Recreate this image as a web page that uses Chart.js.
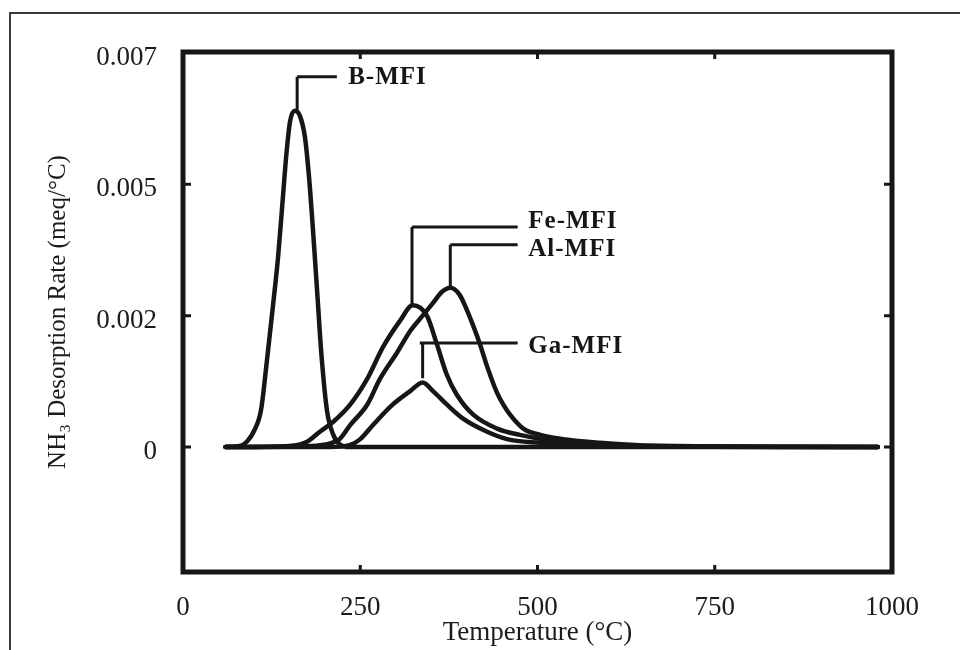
<!DOCTYPE html>
<html>
<head>
<meta charset="utf-8">
<script src="https://cdn.jsdelivr.net/npm/chart.js@4/dist/chart.umd.min.js"></script>
<style>
html,body{margin:0;padding:0;background:#fff;}
#wrap{width:960px;height:650px;position:relative;}
</style>
</head>
<body>
<div id="wrap"><canvas id="c" width="960" height="650"></canvas></div>
<script>
// ---- data ----
const xTickValues = [0, 250, 500, 750, 1000];
const yTickValues = [0, 0.0025, 0.005, 0.0075];
const yTickLabels = ['0', '0.002', '0.005', '0.007'];

const bMfiTemp = [60, 80, 90, 100, 110, 118, 127, 134, 140, 146, 151, 158, 165, 172, 178, 184, 190, 195, 203, 212, 221, 235, 980];
const bMfiRate = [0, 0.00002, 0.0001, 0.0003, 0.0007, 0.0016, 0.0027, 0.0036, 0.0046, 0.0056, 0.0062, 0.0064, 0.0063, 0.0059, 0.0051, 0.004, 0.0028, 0.0018, 0.0007, 0.00023, 0.00005, 0, 0];

const feMfiTemp = [60, 150, 175, 193, 212, 236, 260, 282, 306, 324, 344, 358, 372, 386, 409, 443, 475, 530, 600, 700, 980];
const feMfiRate = [0, 0.00002, 0.0001, 0.00029, 0.00048, 0.00081, 0.0013, 0.0019, 0.0024, 0.0027, 0.0025, 0.00196, 0.00138, 0.001, 0.00062, 0.00035, 0.00023, 0.0001, 0.00004, 0.00001, 0];

const alMfiTemp = [60, 180, 210, 221, 236, 260, 278, 302, 320, 338, 353, 365, 377, 390, 400, 409, 419, 429, 443, 452, 461, 480, 504, 536, 588, 650, 980];
const alMfiRate = [0, 0.00002, 0.00008, 0.00015, 0.00042, 0.00081, 0.0013, 0.0018, 0.0022, 0.0025, 0.00275, 0.00295, 0.00303, 0.0029, 0.00262, 0.00232, 0.00195, 0.00153, 0.00103, 0.0008, 0.00062, 0.00035, 0.00023, 0.00015, 0.00008, 0.00003, 0];

const gaMfiTemp = [60, 207, 236, 250, 268, 296, 320, 338, 353, 372, 395, 429, 457, 504, 560, 980];
const gaMfiRate = [0, 0, 0.00004, 0.00015, 0.00042, 0.00081, 0.00106, 0.00123, 0.00106, 0.00081, 0.00054, 0.00029, 0.00015, 0.00008, 0.00003, 0];

// label call-outs, in data units
const calloutText  = ['B-MFI', 'Fe-MFI', 'Al-MFI', 'Ga-MFI'];
const calloutStemX = [161, 323, 377, 338];
const calloutStemY = [0.0064, 0.0027, 0.00303, 0.00131];
const calloutElbow = [0.00705, 0.00419, 0.00385, 0.00198];
const calloutEndX  = [217, 472, 472, 472];
const calloutTextX = [233, 487, 487, 487];
const calloutTextY = [0.00705, 0.00432, 0.00377, 0.00194];
const calloutLineStartX = [161, 323, 377, 334];

function zip(t, r) { return t.map((x, i) => ({x: x, y: r[i]})); }

const INK = '#161616';
const TXT = '#1c1c1c';
const serif = "'Liberation Serif', 'Times New Roman', serif";

function makeSet(label, t, r) {
  return {
    label: label,
    data: zip(t, r),
    borderColor: INK,
    borderWidth: 4.5,
    pointRadius: 0,
    fill: false,
    cubicInterpolationMode: 'monotone',
    borderCapStyle: 'round',
    borderJoinStyle: 'round'
  };
}

const decor = {
  id: 'decor',
  beforeDraw(chart) {
    const ctx = chart.ctx;
    ctx.save();
    ctx.strokeStyle = '#3a3a3a';
    ctx.lineWidth = 2;
    ctx.beginPath();
    ctx.moveTo(10, 650);
    ctx.lineTo(10, 13);
    ctx.lineTo(960, 13);
    ctx.stroke();
    ctx.restore();
  },
  afterDatasetsDraw(chart) {
    const ctx = chart.ctx;
    const xs = chart.scales.x, ys = chart.scales.y;
    const a = chart.chartArea;
    ctx.save();
    // frame
    ctx.strokeStyle = INK;
    ctx.lineWidth = 5;
    ctx.strokeRect(a.left, a.top, a.right - a.left, a.bottom - a.top);
    // inward ticks
    ctx.lineWidth = 3;
    ctx.beginPath();
    xTickValues.forEach(v => {
      const px = xs.getPixelForValue(v);
      if (px > a.left + 5 && px < a.right - 5) {
        ctx.moveTo(px, a.bottom); ctx.lineTo(px, a.bottom - 7);
        ctx.moveTo(px, a.top); ctx.lineTo(px, a.top + 7);
      }
    });
    yTickValues.forEach(v => {
      const py = ys.getPixelForValue(v);
      if (py > a.top + 5 && py < a.bottom - 5) {
        ctx.moveTo(a.left, py); ctx.lineTo(a.left + 8, py);
        ctx.moveTo(a.right, py); ctx.lineTo(a.right - 8, py);
      }
    });
    ctx.stroke();
    // call-outs
    ctx.lineWidth = 3;
    ctx.lineCap = 'butt';
    ctx.fillStyle = INK;
    ctx.font = 'bold 25px ' + serif;
    if ('letterSpacing' in ctx) ctx.letterSpacing = '1px';
    ctx.textBaseline = 'middle';
    ctx.textAlign = 'left';
    calloutText.forEach((t, i) => {
      const sx = xs.getPixelForValue(calloutStemX[i]);
      const sy = ys.getPixelForValue(calloutStemY[i]);
      const ey = ys.getPixelForValue(calloutElbow[i]);
      const lx = xs.getPixelForValue(calloutLineStartX[i]);
      const ex = xs.getPixelForValue(calloutEndX[i]);
      ctx.beginPath();
      ctx.moveTo(sx, sy); ctx.lineTo(sx, ey);
      ctx.moveTo(Math.min(lx, sx), ey); ctx.lineTo(ex, ey);
      ctx.stroke();
      ctx.fillText(t, xs.getPixelForValue(calloutTextX[i]), ys.getPixelForValue(calloutTextY[i]) + 1);
    });
    ctx.restore();
  }
};

new Chart(document.getElementById('c'), {
  type: 'line',
  data: {
    datasets: [
      makeSet('B-MFI', bMfiTemp, bMfiRate),
      makeSet('Fe-MFI', feMfiTemp, feMfiRate),
      makeSet('Al-MFI', alMfiTemp, alMfiRate),
      makeSet('Ga-MFI', gaMfiTemp, gaMfiRate)
    ]
  },
  options: {
    responsive: false,
    animation: false,
    devicePixelRatio: 1,
    layout: { padding: { top: 52, right: 68, left: 0, bottom: 0 } },
    plugins: { legend: { display: false }, tooltip: { enabled: false } },
    scales: {
      x: {
        type: 'linear',
        min: 0, max: 1000,
        afterBuildTicks: s => { s.ticks = xTickValues.map(v => ({ value: v })); },
        afterFit: s => { s.height = 78; },
        grid: { display: false },
        border: { display: false },
        ticks: {
          color: TXT,
          font: { family: serif, size: 27 },
          padding: 12,
          maxRotation: 0,
          autoSkip: false,
          callback: v => String(v)
        },
        title: {
          display: true,
          text: 'Temperature (°C)',
          color: TXT,
          font: { family: serif, size: 27 },
          padding: { top: 0, bottom: 1 }
        }
      },
      y: {
        type: 'linear',
        min: -0.00238, max: 0.00752,
        afterBuildTicks: s => { s.ticks = yTickValues.map(v => ({ value: v })); },
        afterFit: s => { s.width = 183; },
        grid: { display: false },
        border: { display: false },
        ticks: {
          color: TXT,
          font: { family: serif, size: 27 },
          padding: 18,
          labelOffset: 5,
          autoSkip: false,
          callback: (v, i) => yTickLabels[i]
        },
        title: {
          display: true,
          text: 'NH\u2083 Desorption Rate (meq/°C)',
          color: TXT,
          font: { family: serif, size: 25 },
          padding: { top: 43, bottom: 0 }
        }
      }
    }
  },
  plugins: [decor]
});
</script>
</body>
</html>
